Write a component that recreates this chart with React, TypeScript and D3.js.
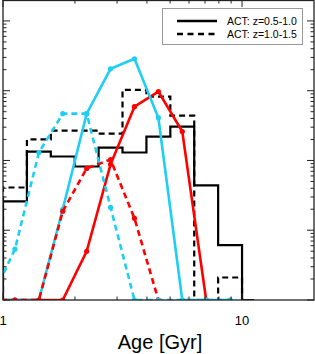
import React from 'react';
import * as d3 from 'd3';

// Bin centres (Gyr), 0.1 dex bins in log(age)
const ageCenters = [0.891, 1.122, 1.413, 1.778, 2.239, 2.818, 3.548, 4.467, 5.623, 7.079, 8.913, 11.22];
// Black histograms (legend series)
const actLowZ = [0, 2.6, 13.4, 11.4, 8.2, 15.3, 13.0, 22, 30.6, 4.4, 0.61, 0];
const actHighZ = [0, 4.1, 20, 26.8, 26.8, 24.3, 103, 82, 44, 0, 0.21, 0];
// Coloured model curves (null = not drawn)
const cyanSolid = [0, 0, 0, 2.0, 46.9, 206, 287, 41, 0, 0, 0, null];
const cyanDashed = [0, 0.535, 13.0, 46.9, 46.9, 2.13, 0, 0, 0, 0, 0, null];
const redSolid = [0, 0, 0, 0, 0.5, 8.8, 59, 97, 26, 0, null, null];
const redDashed = [0, 0, 0, 1.87, 7.7, 10.3, 1.48, 0, null, null, null, null];

const legendLabels = ['ACT: z=0.5-1.0', 'ACT: z=1.0-1.5'];
const xMajorTicks = [1, 10];
const xMinorTicks = [2, 3, 4, 5, 6, 7, 8, 9];
const yDecades = [0.1, 1, 10, 100, 1000];
const xDomain = [1, 20];
const yDomain = [0.1, 1995];

const W = 315, H = 354;
const L = 3, R = 314, T = 0, B = 300;
const CYAN = '#1fcff2';
const RED = '#ff0000';

export default function App() {
  const x = d3.scaleLog().domain(xDomain).range([L, R]);
  const y = d3.scaleLog().domain(yDomain).range([B, T]);
  const yv = (v: number) => y(Math.max(v, yDomain[0]));

  const pts = (vals: (number | null)[]) =>
    vals.map((v, i) => ({ a: ageCenters[i], v }));

  const lineGen = d3
    .line<{ a: number; v: number | null }>()
    .defined((d) => d.v !== null)
    .x((d) => x(d.a))
    .y((d) => yv(d.v as number));

  const stepGen = d3
    .line<{ a: number; v: number | null }>()
    .curve(d3.curveStep)
    .x((d) => x(d.a))
    .y((d) => yv(d.v as number));

  const yMinor: number[] = [];
  yDecades.forEach((d) => {
    for (let k = 2; k <= 9; k++) {
      const v = d * k;
      if (v < yDomain[1]) yMinor.push(v);
    }
  });

  const curve = (vals: (number | null)[], color: string, dashed: boolean, key: string) => (
    <g key={key}>
      <path
        d={lineGen(pts(vals)) || ''}
        fill="none"
        stroke={color}
        strokeWidth={2.6}
        strokeDasharray={dashed ? '6 4' : undefined}
      />
      {pts(vals)
        .filter((d) => d.v !== null)
        .map((d, i) => (
          <circle key={i} cx={x(d.a)} cy={yv(d.v as number)} r={2.6} fill={color} />
        ))}
    </g>
  );

  return (
    <svg
      width={W}
      height={H}
      style={{ position: 'absolute', left: 0, top: 0, background: '#fff' }}
      fontFamily="'Liberation Sans', Arial, sans-serif"
    >
      <defs>
        <clipPath id="plotclip">
          <rect x={L} y={T} width={R - L} height={B - T} />
        </clipPath>
      </defs>
      <rect x={0} y={0} width={W} height={H} fill="#fff" />
      <g clipPath="url(#plotclip)">
        <path d={stepGen(pts(actLowZ)) || ''} fill="none" stroke="#000" strokeWidth={2.2} />
        <path d={stepGen(pts(actHighZ)) || ''} fill="none" stroke="#000" strokeWidth={2.2} strokeDasharray="6 4" />
        {curve(redSolid, RED, false, 'rs')}
        {curve(cyanSolid, CYAN, false, 'cs')}
        {curve(redDashed, RED, true, 'rd')}
        {curve(cyanDashed, CYAN, true, 'cd')}
      </g>

      {/* frame */}
      <rect x={L} y={T + 0.5} width={R - L} height={B - T - 0.5} fill="none" stroke="#222" strokeWidth={1.3} />

      {/* x ticks */}
      {xMajorTicks.map((t) => (
        <g key={'xM' + t}>
          <line x1={x(t)} x2={x(t)} y1={B} y2={B - 7} stroke="#222" strokeWidth={1} />
          <line x1={x(t)} x2={x(t)} y1={T} y2={T + 7} stroke="#222" strokeWidth={1} />
          <text x={x(t)} y={325} fontSize={13} textAnchor="middle" fill="#000">
            {t}
          </text>
        </g>
      ))}
      {xMinorTicks.map((t) => (
        <g key={'xm' + t}>
          <line x1={x(t)} x2={x(t)} y1={B} y2={B - 3.5} stroke="#222" strokeWidth={1} />
          <line x1={x(t)} x2={x(t)} y1={T} y2={T + 3.5} stroke="#222" strokeWidth={1} />
        </g>
      ))}
      {/* y ticks */}
      {yDecades.map((t) => (
        <g key={'yM' + t}>
          <line x1={L} x2={L + 7} y1={y(t)} y2={y(t)} stroke="#222" strokeWidth={1} />
          <line x1={R} x2={R - 7} y1={y(t)} y2={y(t)} stroke="#222" strokeWidth={1} />
        </g>
      ))}
      {yMinor.map((t) => (
        <g key={'ym' + t}>
          <line x1={L} x2={L + 3.5} y1={y(t)} y2={y(t)} stroke="#222" strokeWidth={1} />
          <line x1={R} x2={R - 3.5} y1={y(t)} y2={y(t)} stroke="#222" strokeWidth={1} />
        </g>
      ))}

      {/* legend */}
      <rect x={162.5} y={8.5} width={140} height={36} fill="#fff" stroke="#999" strokeWidth={1} />
      <line x1={177} x2={217} y1={21} y2={21} stroke="#000" strokeWidth={2.4} />
      <line x1={177} x2={217} y1={34} y2={34} stroke="#000" strokeWidth={2.4} strokeDasharray="6 4.5" />
      <text x={227} y={25} fontSize={10.5} fill="#000">
        {legendLabels[0]}
      </text>
      <text x={227} y={38} fontSize={10.5} fill="#000">
        {legendLabels[1]}
      </text>

      {/* axis label */}
      <text x={160} y={349} fontSize={20} textAnchor="middle" fill="#000">
        Age [Gyr]
      </text>
    </svg>
  );
}
